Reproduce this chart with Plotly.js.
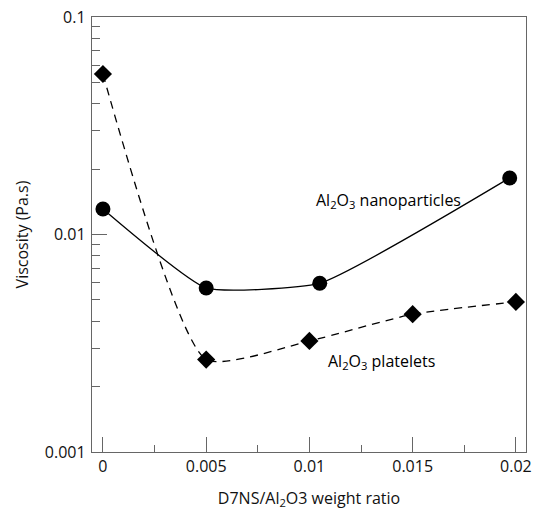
<!DOCTYPE html>
<html><head><meta charset="utf-8">
<script src="https://cdn.plot.ly/plotly-3.0.1.min.js"></script>
<style>html,body{margin:0;padding:0;background:#fff;}#chart{width:533px;height:516px;}</style>
</head><body><div id="chart"></div>
<script>
const nanoX = [0, 0.005, 0.0105, 0.0197];
const nanoY = [0.0131, 0.00568, 0.00597, 0.0182];
const plateX = [0, 0.005, 0.01, 0.015, 0.02];
const plateY = [0.0547, 0.00266, 0.00324, 0.0043, 0.0049];
const xTickVals = [0, 0.005, 0.01, 0.015, 0.02];
const xTickText = ['0', '0.005', '0.01', '0.015', '0.02'];
const yTickVals = [0.001, 0.01, 0.1];
const yTickText = ['0.001', '0.01', '0.1'];

const fontFam = '"Open Sans", "Noto Sans", sans-serif';
const traces = [
  {x: plateX, y: plateY, mode: 'lines', line: {shape: 'spline', smoothing: 0.55, dash: '8px,6px', color: '#000', width: 1.3}, hoverinfo: 'skip'},
  {x: plateX, y: plateY, mode: 'markers', marker: {symbol: 'diamond', size: 14, color: '#000'}},
  {x: nanoX, y: nanoY, mode: 'lines', line: {shape: 'spline', smoothing: 0.45, color: '#000', width: 1.3}, hoverinfo: 'skip'},
  {x: nanoX, y: nanoY, mode: 'markers', marker: {symbol: 'circle', size: 15, color: '#000'}}
];
const layout = {
  width: 533, height: 516,
  margin: {l: 92, r: 7, t: 17, b: 64},
  paper_bgcolor: '#fff', plot_bgcolor: '#fff',
  showlegend: false,
  font: {family: fontFam, color: '#111', size: 15},
  xaxis: {
    range: [-0.00053, 0.02049],
    tickvals: xTickVals, ticktext: xTickText,
    ticks: 'inside', ticklen: 15, tickwidth: 1, tickcolor: '#666',
    minor: {dtick: 0.0025, tick0: 0, ticks: 'inside', ticklen: 7, tickcolor: '#666', showgrid: false},
    showline: true, linecolor: '#666', linewidth: 1.2, mirror: true,
    showgrid: false, zeroline: false,
    tickfont: {size: 16, family: fontFam},
    title: {text: 'D7NS/Al<sub>2</sub>O3 weight ratio', font: {size: 16, family: fontFam}, standoff: 16}
  },
  yaxis: {
    type: 'log', range: [-3, -1],
    tickvals: yTickVals, ticktext: yTickText,
    ticks: 'inside', ticklen: 15, tickwidth: 1, tickcolor: '#666',
    minor: {dtick: 'D1', ticks: 'inside', ticklen: 8, tickcolor: '#666', showgrid: false},
    showline: true, linecolor: '#666', linewidth: 1.2, mirror: true,
    showgrid: false, zeroline: false,
    tickfont: {size: 16, family: fontFam},
    ticklabelstandoff: 2,
    title: {text: 'Viscosity (Pa.s)', font: {size: 16, family: fontFam}, standoff: 12}
  },
  annotations: [
    {x: 0.0102, y: Math.log10(0.0143), xref: 'x', yref: 'y', text: 'Al<sub>2</sub>O<sub>3</sub> nanoparticles', showarrow: false, xanchor: 'left', font: {size: 16, family: fontFam, color: '#000'}},
    {x: 0.0108, y: Math.log10(0.00262), xref: 'x', yref: 'y', text: 'Al<sub>2</sub>O<sub>3</sub> platelets', showarrow: false, xanchor: 'left', font: {size: 16, family: fontFam, color: '#000'}}
  ]
};
Plotly.newPlot('chart', traces, layout, {displayModeBar: false, staticPlot: true});
</script></body></html>
